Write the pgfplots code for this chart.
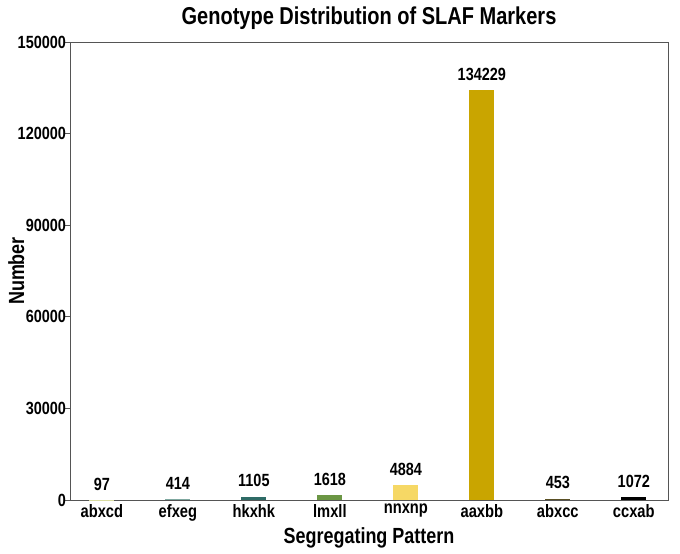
\documentclass[border=0pt]{standalone}
\usepackage{fontspec}
\setmainfont{Liberation Sans}[FakeStretch=0.82]
\usepackage{pgfplots}
\pgfplotsset{compat=1.18}

\definecolor{cA}{HTML}{D9DCA0}
\definecolor{cB}{HTML}{7FA8A0}
\definecolor{cC}{HTML}{2E6B66}
\definecolor{cD}{HTML}{6B9644}
\definecolor{cE}{HTML}{F6D865}
\definecolor{cF}{HTML}{C9A500}
\definecolor{cG}{HTML}{5A5024}
\definecolor{cH}{HTML}{000000}
\definecolor{axisgray}{HTML}{555555}

\begin{document}
\begin{tikzpicture}[x=1bp,y=1bp]
\begin{axis}[
scale only axis,
width=598bp,height=458bp,
xmin=-0.42,xmax=7.45,ymin=0,ymax=150000,
xtick={0,1,2,3,4,5,6,7},
xticklabels={abxcd,efxeg,hkxhk,lmxll,nnxnp,aaxbb,abxcc,ccxab},
ytick={0,30000,60000,90000,120000,150000},
ytick pos=left,
scaled y ticks=false,
/pgf/number format/fixed,
/pgf/number format/1000 sep={},
/pgf/number format/assume math mode=true,
tick label style={font=\fontsize{17.7}{19}\selectfont\bfseries},
xtick style={draw=none},
ytick style={axisgray,thick},
tick align=outside,
major tick length=4.5bp,
axis line style={axisgray,thick},
xticklabel style={yshift=4bp,font=\fontsize{18}{19}\selectfont\bfseries},
yticklabel style={xshift=4bp},
xlabel={Segregating Pattern},
ylabel={Number},
label style={font=\fontsize{22}{24}\selectfont\bfseries},
xlabel style={at={(axis description cs:0.5,-0.083)},anchor=center},
ylabel style={at={(axis description cs:-0.09,0.5)},anchor=center},
title={Genotype Distribution of SLAF Markers},
title style={font=\fontsize{24.5}{27}\selectfont\bfseries,at={(axis description cs:0.5,1.040)},anchor=center},
ybar,bar width=0.33,bar shift=0pt,
nodes near coords,
nodes near coords style={font=\fontsize{17.7}{19}\selectfont\bfseries,black,yshift=6bp},
]
\addplot[fill=cA,draw=none] coordinates {(0,97)};
\addplot[fill=cB,draw=none] coordinates {(1,414)};
\addplot[fill=cC,draw=none] coordinates {(2,1105)};
\addplot[fill=cD,draw=none] coordinates {(3,1618)};
\addplot[fill=cE,draw=none] coordinates {(4,4884)};
\addplot[fill=cF,draw=none] coordinates {(5,134229)};
\addplot[fill=cG,draw=none] coordinates {(6,453)};
\addplot[fill=cH,draw=none] coordinates {(7,1072)};
\end{axis}
\pgfresetboundingbox
\useasboundingbox (-70bp,-54bp) rectangle (610bp,500bp);
\end{tikzpicture}
\end{document}
